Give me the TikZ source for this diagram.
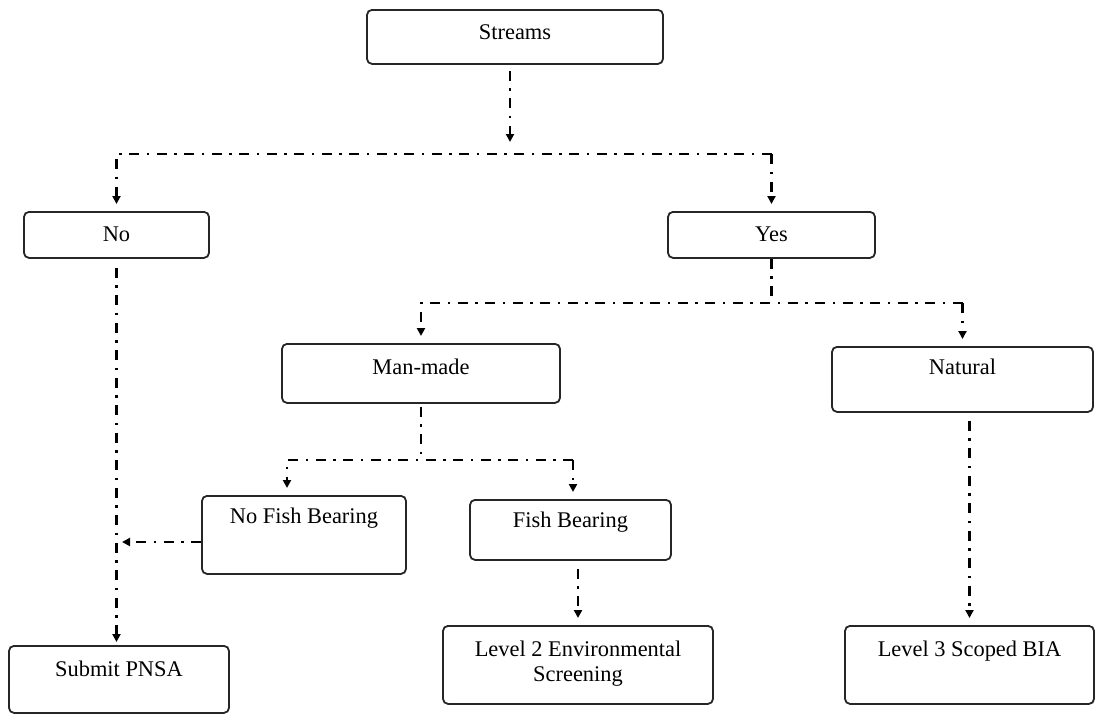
\documentclass[tikz,border=0pt]{standalone}
\usepackage{fontspec}
\setmainfont{Liberation Serif}
\usetikzlibrary{arrows.meta}
\begin{document}
\begin{tikzpicture}[x=1pt,y=-1pt,
  box/.style={draw=black!85, line width=1.8pt, rounded corners=5pt, inner sep=0pt,
    anchor=north, font=\fontsize{22.4}{25}\selectfont, align=center},
  link/.style={line width=2.6pt, dash pattern=on 10pt off 7.5pt on 2.5pt off 7.5pt},
  arr/.style={link, -{Triangle[length=8pt,width=8pt]}, shorten >=7pt}]
\useasboundingbox (0,0) rectangle (1095,715);
\fill[white] (0,0) rectangle (1095,715);

\node[box, minimum width=296pt, text height=29.5pt, text depth=24.5pt] (streams) at (515,9) {Streams};
\node[box, minimum width=185pt, text height=30pt, text depth=16pt] (no) at (116.5,211) {No};
\node[box, minimum width=207pt, text height=30pt, text depth=16pt] (yes) at (771.5,211) {Yes};
\node[box, minimum width=278pt, text height=31pt, text depth=28pt] (manmade) at (421,343) {Man-made};
\node[box, minimum width=261pt, text height=28pt, text depth=37pt] (natural) at (962.5,346) {Natural};
\node[box, minimum width=204pt, text height=28pt, text depth=50pt] (nofish) at (304,495) {No Fish Bearing};
\node[box, minimum width=201pt, text height=28pt, text depth=32pt] (fish) at (570.5,499) {Fish Bearing};
\node[box, minimum width=220pt, text height=31pt, text depth=36pt] (submit) at (119,645) {Submit PNSA};
\node[box, minimum width=270pt, text height=31pt, text depth=47pt] (level2) at (578,625)
  {\begin{tabular}[t]{@{}c@{}}Level 2 Environmental\\Screening\end{tabular}};
\node[box, minimum width=249pt, text height=31pt, text depth=47pt] (level3) at (969.5,625) {Level 3 Scoped BIA};

% Streams split
\coordinate (j1) at (510,154);
\coordinate (h1L) at (116.5,154);
\coordinate (h1R) at (771.5,154);
\draw[arr, shorten <=6pt, shorten >=12pt] (streams.south -| j1) -- (j1);
\draw[arr] (h1R) -- (h1L) -- (no);
\draw[arr] (h1R) -- (yes);

% Yes split
\coordinate (h2L) at (421,303);
\coordinate (h2R) at (962.5,303);
\draw[link] (yes.south) -- (yes.south |- h2L);
\draw[arr] (h2R) -- (h2L) -- (manmade);
\draw[arr] (h2R) -- (natural);

% Man-made split
\coordinate (h3L) at (287,460);
\coordinate (h3R) at (573,460);
\draw[link, shorten <=3pt] (manmade.south) -- (manmade.south |- h3L);
\draw[arr] (h3R) -- (h3L) -- (h3L |- nofish.north);
\draw[arr] (h3R) -- (h3R |- fish.north);

% No -> Submit PNSA
\draw[arr, shorten <=9pt, shorten >=3pt] (no.south) -- (no.south |- submit.north);
\coordinate (m1) at (122,542);
\draw[arr, shorten >=0pt] (m1 -| nofish.west) -- (m1);

% Fish Bearing -> Level 2
\draw[arr, shorten <=8pt] (level2.north |- fish.south) -- (level2.north);

% Natural -> Level 3
\draw[arr, shorten <=8pt] (level3.north |- natural.south) -- (level3.north);
\end{tikzpicture}
\end{document}
